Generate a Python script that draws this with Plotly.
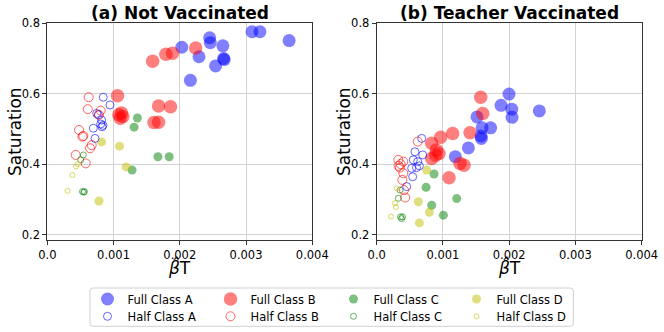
import plotly.graph_objects as go

# (a) Not Vaccinated
nv_full_a_x = [0.00203, 0.00245, 0.00246, 0.00265, 0.00229, 0.00254, 0.00266, 0.00267, 0.00216, 0.00309, 0.00321, 0.00365]
nv_full_a_y = [0.732, 0.759, 0.745, 0.736, 0.705, 0.679, 0.700, 0.697, 0.638, 0.776, 0.776, 0.751]
nv_full_b_x = [0.00159, 0.00179, 0.00189, 0.00224, 0.00106, 0.00108, 0.00112, 0.00114, 0.00110, 0.00168, 0.00186, 0.00161, 0.00168]
nv_full_b_y = [0.692, 0.712, 0.715, 0.730, 0.594, 0.540, 0.545, 0.535, 0.530, 0.565, 0.563, 0.518, 0.519]
nv_full_c_x = [0.00136, 0.00131, 0.00167, 0.00184, 0.00128]
nv_full_c_y = [0.531, 0.505, 0.421, 0.421, 0.383]
nv_full_d_x = [0.00082, 0.00109, 0.00119, 0.00078]
nv_full_d_y = [0.463, 0.451, 0.392, 0.295]
nv_half_a_x = [0.000845, 0.000946, 0.000746, 0.00077, 0.00082, 0.000806, 0.000826, 0.000695, 0.00072, 0.00084]
nv_half_a_y = [0.590, 0.568, 0.544, 0.540, 0.525, 0.514, 0.506, 0.502, 0.473, 0.510]
nv_half_b_x = [0.000625, 0.00061, 0.000806, 0.00078, 0.000479, 0.000544, 0.00053, 0.00067, 0.000645, 0.000428, 0.00058]
nv_half_b_y = [0.590, 0.556, 0.552, 0.540, 0.497, 0.480, 0.478, 0.454, 0.445, 0.426, 0.402]
nv_half_c_x = [0.000544, 0.000504, 0.00053, 0.00056, 0.00055]
nv_half_c_y = [0.426, 0.412, 0.322, 0.322, 0.320]
nv_half_d_x = [0.000433, 0.000378, 0.000307, 0.00046]
nv_half_d_y = [0.393, 0.369, 0.324, 0.400]

# (b) Teacher Vaccinated
tv_full_a_x = [0.001997, 0.001877, 0.002038, 0.002043, 0.002455, 0.001514, 0.00159, 0.00172, 0.001575, 0.00158, 0.001384, 0.001187]
tv_full_a_y = [0.599, 0.567, 0.556, 0.533, 0.551, 0.534, 0.503, 0.503, 0.480, 0.473, 0.446, 0.421]
tv_full_b_x = [0.00157, 0.0016, 0.001409, 0.001147, 0.000966, 0.00083, 0.0009, 0.00089, 0.00094, 0.00083, 0.001258, 0.001318, 0.001092]
tv_full_b_y = [0.590, 0.544, 0.489, 0.487, 0.476, 0.459, 0.440, 0.425, 0.430, 0.416, 0.402, 0.397, 0.361]
tv_full_c_x = [0.000865, 0.000745, 0.001208, 0.00083, 0.001006]
tv_full_c_y = [0.372, 0.334, 0.302, 0.283, 0.255]
tv_full_d_x = [0.000755, 0.000629, 0.000795, 0.000644]
tv_full_d_y = [0.383, 0.293, 0.263, 0.233]
tv_half_a_x = [0.000679, 0.000578, 0.000694, 0.000553, 0.000619, 0.000528, 0.000543, 0.000644, 0.000453, 0.0006]
tv_half_a_y = [0.473, 0.435, 0.426, 0.412, 0.407, 0.388, 0.364, 0.395, 0.336, 0.390]
tv_half_b_x = [0.000327, 0.000402, 0.00035, 0.00033, 0.000402, 0.000619, 0.000387, 0.000412, 0.00043, 0.00036]
tv_half_b_y = [0.412, 0.407, 0.390, 0.395, 0.374, 0.464, 0.355, 0.326, 0.305, 0.400]
tv_half_c_x = [0.000352, 0.000327, 0.00036, 0.00039, 0.000375]
tv_half_c_y = [0.326, 0.303, 0.250, 0.250, 0.245]
tv_half_d_x = [0.000302, 0.000277, 0.00029, 0.000216]
tv_half_d_y = [0.331, 0.289, 0.278, 0.251]

x_ticks = [0.0, 0.001, 0.002, 0.003, 0.004]
x_tick_text = ["0.0", "0.001", "0.002", "0.003", "0.004"]
y_ticks = [0.2, 0.4, 0.6, 0.8]
y_tick_text = ["0.2", "0.4", "0.6", "0.8"]

colors = {"A": "0,0,255", "B": "255,0,0", "C": "0,128,0", "D": "191,191,0"}
full_size = {"A": 13, "B": 13.5, "C": 9, "D": 9}
half_size = {"A": 8, "B": 9, "C": 6, "D": 5}

panels = [
    ("x", "y", {
        ("full", "A"): (nv_full_a_x, nv_full_a_y), ("full", "B"): (nv_full_b_x, nv_full_b_y),
        ("full", "C"): (nv_full_c_x, nv_full_c_y), ("full", "D"): (nv_full_d_x, nv_full_d_y),
        ("half", "A"): (nv_half_a_x, nv_half_a_y), ("half", "B"): (nv_half_b_x, nv_half_b_y),
        ("half", "C"): (nv_half_c_x, nv_half_c_y), ("half", "D"): (nv_half_d_x, nv_half_d_y),
    }),
    ("x2", "y2", {
        ("full", "A"): (tv_full_a_x, tv_full_a_y), ("full", "B"): (tv_full_b_x, tv_full_b_y),
        ("full", "C"): (tv_full_c_x, tv_full_c_y), ("full", "D"): (tv_full_d_x, tv_full_d_y),
        ("half", "A"): (tv_half_a_x, tv_half_a_y), ("half", "B"): (tv_half_b_x, tv_half_b_y),
        ("half", "C"): (tv_half_c_x, tv_half_c_y), ("half", "D"): (tv_half_d_x, tv_half_d_y),
    }),
]

fig = go.Figure()
for i, (xa, ya, series) in enumerate(panels):
    for kind in ["full", "half"]:
        for cls in ["A", "B", "C", "D"]:
            xs, ys = series[(kind, cls)]
            if kind == "full":
                marker = dict(size=full_size[cls], color="rgba(%s,0.5)" % colors[cls],
                              line=dict(width=0))
            else:
                marker = dict(size=half_size[cls], symbol="circle-open",
                              color="rgba(%s,0.6)" % colors[cls], line=dict(width=1))
            fig.add_trace(go.Scatter(
                x=xs, y=ys, mode="markers", xaxis=xa, yaxis=ya,
                name="%s Class %s" % (kind.capitalize(), cls),
                marker=marker, showlegend=(i == 0),
                legend="legend" if kind == "full" else "legend2",
            ))

axis_common = dict(
    showgrid=True, gridcolor="#d3d3d3", gridwidth=1, zeroline=False,
    showline=True, linecolor="#333333", linewidth=1, mirror=True,
    ticks="outside", ticklen=4, tickcolor="#333333",
    tickfont=dict(size=11.5, color="black"),
)

W, H = 664, 332
legend_common = dict(
    orientation="h", xanchor="left", yanchor="middle",
    entrywidth=78, entrywidthmode="pixels", itemsizing="trace",
    bgcolor="rgba(0,0,0,0)", borderwidth=0,
    font=dict(size=11.5, color="black"),
)

fig.update_layout(
    width=W, height=H,
    margin=dict(l=0, r=0, t=0, b=0, autoexpand=False),
    paper_bgcolor="white", plot_bgcolor="white",
    font=dict(family="DejaVu Sans", color="black"),
    xaxis=dict(domain=[47.3 / W, 312.3 / W], range=[0, 0.004], tickvals=x_ticks,
               ticktext=x_tick_text, anchor="y", **axis_common),
    yaxis=dict(domain=[1 - 240.3 / H, 1 - 23.3 / H], range=[0.1835, 0.8], tickvals=y_ticks,
               ticktext=y_tick_text, anchor="x", **axis_common),
    xaxis2=dict(domain=[376.7 / W, 641.7 / W], range=[0, 0.004], tickvals=x_ticks,
                ticktext=x_tick_text, anchor="y2", **axis_common),
    yaxis2=dict(domain=[1 - 240.3 / H, 1 - 23.3 / H], range=[0.1835, 0.8], tickvals=y_ticks,
                ticktext=y_tick_text, anchor="x2", **axis_common),
    legend=dict(x=87.5 / W, y=1 - 299 / H, **legend_common),
    legend2=dict(x=87.5 / W, y=1 - 316.3 / H, **legend_common),
    showlegend=True,
)

# rounded legend frame
x0, x1, y0, y1 = 90 / W, 573.3 / W, 1 - 326.3 / H, 1 - 288 / H
rx, ry = 3 / W, 3 / H
frame = (
    f"M {x0 + rx},{y1} L {x1 - rx},{y1} Q {x1},{y1} {x1},{y1 - ry} "
    f"L {x1},{y0 + ry} Q {x1},{y0} {x1 - rx},{y0} L {x0 + rx},{y0} "
    f"Q {x0},{y0} {x0},{y0 + ry} L {x0},{y1 - ry} Q {x0},{y1} {x0 + rx},{y1} Z"
)
fig.add_shape(type="path", path=frame, xref="paper", yref="paper",
              line=dict(color="#d0d0d0", width=1), fillcolor="white", layer="above")

cx1 = (47.3 + 312.3) / 2 / W
cx2 = (376.7 + 641.7) / 2 / W
annotations = [
    dict(text="<b>(a) Not Vaccinated</b>", x=cx1, y=1 - 13.4 / H,
         yanchor="middle", font=dict(size=17)),
    dict(text="<b>(b) Teacher Vaccinated</b>", x=cx2, y=1 - 13.4 / H,
         yanchor="middle", font=dict(size=17)),
    dict(text="<i>β̂</i>T", x=cx1, y=1 - 267 / H, yanchor="middle", font=dict(size=17)),
    dict(text="<i>β̂</i>T", x=cx2, y=1 - 267 / H, yanchor="middle", font=dict(size=17)),
    dict(text="Saturation", x=15 / W, y=1 - 132 / H, textangle=-90,
         yanchor="middle", font=dict(size=17)),
    dict(text="Saturation", x=344 / W, y=1 - 132 / H, textangle=-90,
         yanchor="middle", font=dict(size=17)),
]
for a in annotations:
    fig.add_annotation(xref="paper", yref="paper", xanchor="center", showarrow=False, **a)

fig.write_html("out.html", config={"displayModeBar": False},
               post_script="document.body.style.margin='0px';")
